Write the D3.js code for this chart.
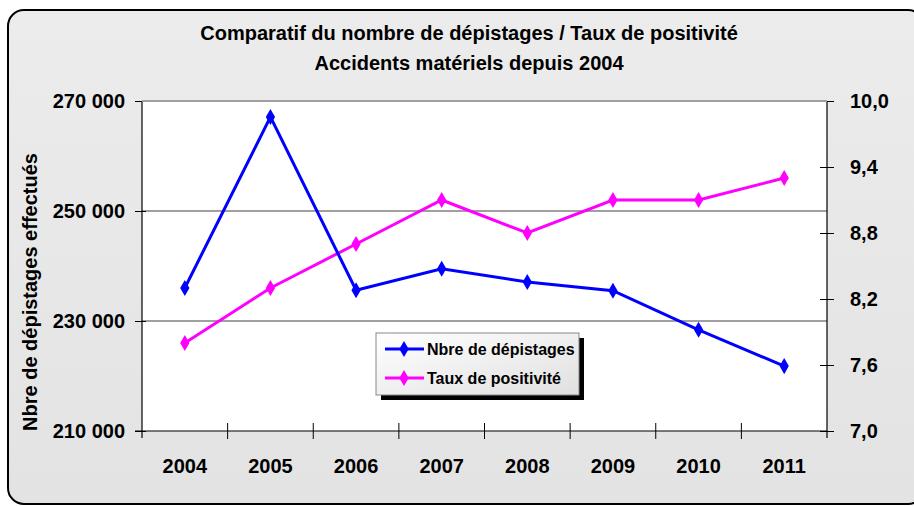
<!DOCTYPE html>
<html>
<head>
<meta charset="utf-8">
<script src="https://cdn.jsdelivr.net/npm/d3@7"></script>
<style>
  html, body { margin: 0; padding: 0; background: #fff; }
  svg { display: block; font-family: "Liberation Sans", Arial, sans-serif; }
</style>
</head>
<body>
<div id="chart"></div>
<script>
const years = ["2004", "2005", "2006", "2007", "2008", "2009", "2010", "2011"];
const depistages = [236000, 267100, 235600, 239500, 237100, 235500, 228400, 221800];
const positivite = [7.8, 8.3, 8.7, 9.1, 8.8, 9.1, 9.1, 9.3];
const leftTicks = [210000, 230000, 250000, 270000];
const rightTicks = [7.0, 7.6, 8.2, 8.8, 9.4, 10.0];

const width = 914, height = 506;
const plot = { left: 142, right: 827, top: 101, bottom: 431 };

const svg = d3.select("#chart").append("svg")
  .attr("width", width).attr("height", height);

const defs = svg.append("defs");
const bg = defs.append("linearGradient").attr("id", "bg")
  .attr("x1", "0%").attr("y1", "0%").attr("x2", "0%").attr("y2", "100%");
bg.append("stop").attr("offset", "0%").attr("stop-color", "#ececec");
bg.append("stop").attr("offset", "100%").attr("stop-color", "#e3e3e3");
const lg = defs.append("linearGradient").attr("id", "legbg")
  .attr("x1", "0%").attr("y1", "0%").attr("x2", "100%").attr("y2", "100%");
lg.append("stop").attr("offset", "0%").attr("stop-color", "#ffffff");
lg.append("stop").attr("offset", "100%").attr("stop-color", "#e0e0e0");

// outer frame, right side runs off the window
svg.append("rect")
  .attr("x", 8).attr("y", 10).attr("width", 916).attr("height", 494)
  .attr("rx", 16)
  .attr("fill", "url(#bg)").attr("stroke", "#000").attr("stroke-width", 2);

// titles
svg.append("text").attr("x", 469).attr("y", 40).attr("text-anchor", "middle")
  .attr("font-size", 20).attr("font-weight", "bold")
  .text("Comparatif du nombre de dépistages / Taux de positivité");
svg.append("text").attr("x", 469).attr("y", 70).attr("text-anchor", "middle")
  .attr("font-size", 20).attr("font-weight", "bold")
  .text("Accidents matériels depuis 2004");

const x = d3.scaleBand().domain(years).range([plot.left, plot.right]);
const yL = d3.scaleLinear().domain([210000, 270000]).range([plot.bottom, plot.top]);
const yR = d3.scaleLinear().domain([7, 10]).range([plot.bottom, plot.top]);

// plot area
svg.append("rect")
  .attr("x", plot.left).attr("y", plot.top)
  .attr("width", plot.right - plot.left).attr("height", plot.bottom - plot.top)
  .attr("fill", "#fff");

// gridlines
svg.append("g").selectAll("line")
  .data(leftTicks.filter(d => d > 210000))
  .join("line")
  .attr("x1", plot.left).attr("x2", plot.right)
  .attr("y1", d => yL(d)).attr("y2", d => yL(d))
  .attr("stroke", "#a0a0a0").attr("stroke-width", 2);

const fmtL = d => d3.format(",")(d).replace(/,/g, " ");
const fmtR = d => d3.format(".1f")(d).replace(".", ",");

// left axis
const gL = svg.append("g").attr("transform", `translate(${plot.left},0)`)
  .call(d3.axisLeft(yL).tickValues(leftTicks).tickFormat(fmtL).tickSize(7).tickPadding(10));
gL.selectAll(".tick line").attr("x2", -7).attr("x1", 4).attr("stroke", "#000");
gL.select(".domain").remove();
gL.append("line").attr("y1", plot.top).attr("y2", plot.bottom + 7).attr("stroke", "#000").attr("stroke-width", 1.2);

// right axis
const gR = svg.append("g").attr("transform", `translate(${plot.right},0)`)
  .call(d3.axisRight(yR).tickValues(rightTicks).tickFormat(fmtR).tickSize(7).tickPadding(16));
gR.selectAll(".tick line").attr("x1", -7).attr("x2", 7).attr("stroke", "#000");
gR.select(".domain").remove();
gR.append("line").attr("y1", plot.top).attr("y2", plot.bottom + 7).attr("stroke", "#000").attr("stroke-width", 1.2);

// bottom axis
const gX = svg.append("g").attr("transform", `translate(0,${plot.bottom})`);
gX.append("line").attr("x1", plot.left - 7).attr("x2", plot.right)
  .attr("stroke", "#000").attr("stroke-width", 1.2);
gX.selectAll("line.tk")
  .data(years.slice(1))
  .join("line").attr("class", "tk")
  .attr("x1", d => x(d)).attr("x2", d => x(d))
  .attr("y1", -8).attr("y2", 8)
  .attr("stroke", "#000");
gX.selectAll("text")
  .data(years)
  .join("text")
  .attr("x", d => x(d) + x.bandwidth() / 2)
  .attr("y", 42)
  .attr("text-anchor", "middle")
  .text(d => d);

svg.selectAll(".tick text").attr("fill", "#000");
[gL, gR, gX].forEach(g => g.selectAll("text")
  .attr("font-size", 20).attr("font-weight", "bold")
  .attr("font-family", "'Liberation Sans', Arial, sans-serif"));

// top border of plot
svg.append("line").attr("x1", plot.left).attr("x2", plot.right)
  .attr("y1", plot.top).attr("y2", plot.top)
  .attr("stroke", "#a0a0a0").attr("stroke-width", 2);

// y-axis title
svg.append("text")
  .attr("transform", "translate(37,292) rotate(-90)")
  .attr("text-anchor", "middle")
  .attr("font-size", 20).attr("font-weight", "bold")
  .text("Nbre de dépistages effectués");

const cx = d => x(d) + x.bandwidth() / 2;
const diamond = d3.symbol().type(d3.symbolDiamond).size(75);

function series(values, yScale, color) {
  const pts = years.map((yr, i) => [cx(yr), yScale(values[i])]);
  svg.append("path").attr("d", d3.line()(pts))
    .attr("fill", "none").attr("stroke", color).attr("stroke-width", 3);
  svg.append("g").selectAll("path").data(pts).join("path")
    .attr("transform", d => `translate(${d[0]},${d[1]})`)
    .attr("d", diamond).attr("fill", color);
}
series(positivite, yR, "#ff00ff");
series(depistages, yL, "#0000ff");

// legend
const leg = svg.append("g").attr("transform", "translate(376,333)");
leg.append("rect").attr("x", 5).attr("y", 5).attr("width", 203).attr("height", 62).attr("fill", "#000");
leg.append("rect").attr("width", 203).attr("height", 62)
  .attr("fill", "url(#legbg)").attr("stroke", "#888").attr("stroke-width", 1);
const legItems = [
  { label: "Nbre de dépistages", color: "#0000ff" },
  { label: "Taux de positivité", color: "#ff00ff" }
];
legItems.forEach((it, i) => {
  const yy = 16 + i * 29;
  leg.append("line").attr("x1", 9).attr("x2", 48).attr("y1", yy).attr("y2", yy)
    .attr("stroke", it.color).attr("stroke-width", 3);
  leg.append("path").attr("transform", `translate(28,${yy})`).attr("d", diamond).attr("fill", it.color);
  leg.append("text").attr("x", 51).attr("y", yy + 6)
    .attr("font-size", 16).attr("font-weight", "bold").text(it.label);
});
</script>
</body>
</html>
